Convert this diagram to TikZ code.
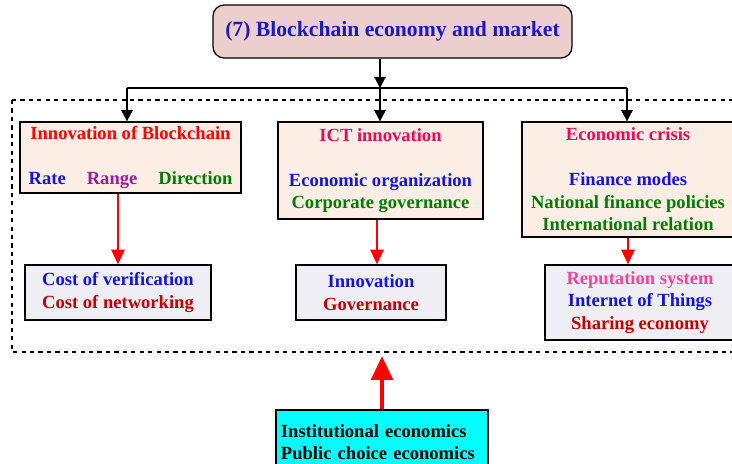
\documentclass[tikz,border=0pt]{standalone}
\usepackage{fontspec}
\setmainfont{Liberation Serif}
\usepackage{xcolor}
\usetikzlibrary{arrows.meta}

\definecolor{titleblue}{RGB}{25,25,200}
\definecolor{txtblue}{RGB}{20,20,220}
\definecolor{txtgreen}{RGB}{0,125,0}
\definecolor{txtpurple}{RGB}{155,30,155}
\definecolor{txtcrimson}{RGB}{235,10,90}
\definecolor{txtdarkred}{RGB}{195,0,0}
\definecolor{txtpink}{RGB}{245,70,150}
\definecolor{titlefill}{RGB}{236,206,206}
\definecolor{upperfill}{RGB}{252,238,228}
\definecolor{lowerfill}{RGB}{240,238,245}
\definecolor{instfill}{RGB}{0,255,255}

\begin{document}
\begin{tikzpicture}[x=0.025cm, y=-0.025cm, font=\bfseries\fontsize{13.2}{16}\selectfont,
	upper/.style = {draw, line width=0.9pt, fill=upperfill, align=center, inner sep=0pt},
	lower/.style = {draw, line width=0.9pt, fill=lowerfill, align=center, inner sep=0pt},
	blackarrow/.style = {line width=1.4pt, -{Triangle[length=8pt, width=8pt]}},
	redarrow/.style = {red, line width=1.3pt, -{Triangle[length=10.5pt, width=9.5pt]}}]
	\useasboundingbox (0,0) rectangle (732,463);
	\begin{scope}
	\clip (0,0) rectangle (732,463);
	% frame round the middle row
	\draw[dashed, line width=0.8pt] (12,100) rectangle (745,352);
	% top node
	\node[draw, line width=0.9pt, fill=titlefill, rounded corners=8pt, minimum width=8.975cm, minimum height=1.325cm, font=\bfseries\fontsize{15.4}{18}\selectfont, text=titleblue] (title) at (392.5,31.5) {(7) Blockchain economy and market};
	% upper row
	\node[upper, minimum width=5.525cm, minimum height=1.775cm] (innov) at (130.5,157.5) {\textcolor{red}{Innovation of Blockchain}\\[16pt]
		\textcolor{txtblue}{Rate}\hspace{15pt}\textcolor{txtpurple}{Range}\hspace{15pt}\textcolor{txtgreen}{Direction}};
	\node[upper, minimum width=5.125cm, minimum height=2.425cm] (ict) at (380.5,170.5) {\textcolor{txtcrimson}{ICT innovation}\\[16pt]
		\textcolor{txtblue}{Economic organization}\\ \textcolor{txtgreen}{Corporate governance}};
	\node[upper, minimum width=5.3cm, minimum height=2.875cm] (crisis) at (628,179.5) {\textcolor{txtcrimson}{Economic crisis}\\[16pt]
		\textcolor{txtblue}{Finance modes}\\ \textcolor{txtgreen}{National finance policies}\\ \textcolor{txtgreen}{International relation}};
	% lower row
	\node[lower, minimum width=4.65cm, minimum height=1.375cm] (cost) at (118,292.5) {\textcolor{txtblue}{Cost of verification}\\ \textcolor{txtdarkred}{Cost of networking}};
	\node[lower, minimum width=3.75cm, minimum height=1.375cm] (gov) at (371,292.5) {\textcolor{txtblue}{Innovation}\\ \textcolor{txtdarkred}{Governance}};
	\node[lower, minimum width=4.75cm, minimum height=1.875cm] (rep) at (640,302.5) {\textcolor{txtpink}{Reputation system}\\ \textcolor{txtblue}{Internet of Things}\\ \textcolor{txtdarkred}{Sharing economy}};
	% bottom node
	\node[draw, line width=0.9pt, fill=instfill, align=left, minimum width=5.3cm, minimum height=1.6cm, text width=5.05cm] (inst) at (382,442) {Institutional economics\\ Public choice economics};
	% connectors
	\coordinate (busL) at (127,88);
	\coordinate (busM) at (380,88);
	\coordinate (busR) at (627,88);
	\coordinate (frame) at (382,356);
	\draw[blackarrow] (title.south -| busM) -- (busM);
	\draw[line width=2pt] (busL) -- (busR);
	\draw[blackarrow] (busL) -- (busL |- innov.north);
	\draw[blackarrow] (busM) -- (busM |- ict.north);
	\draw[blackarrow] (busR) -- (busR |- crisis.north);
	\draw[redarrow] (innov.south -| cost.north) -- (cost.north);
	\draw[redarrow] ([xshift=0.15cm]ict.south -| gov.north) -- ([xshift=0.15cm]gov.north);
	\draw[redarrow] (crisis.south) -- (crisis.south |- rep.north);
	\draw[red, line width=3.5pt, -{Triangle[length=17pt, width=15pt]}] (inst.north) -- (frame);
	\end{scope}
\end{tikzpicture}
\end{document}
